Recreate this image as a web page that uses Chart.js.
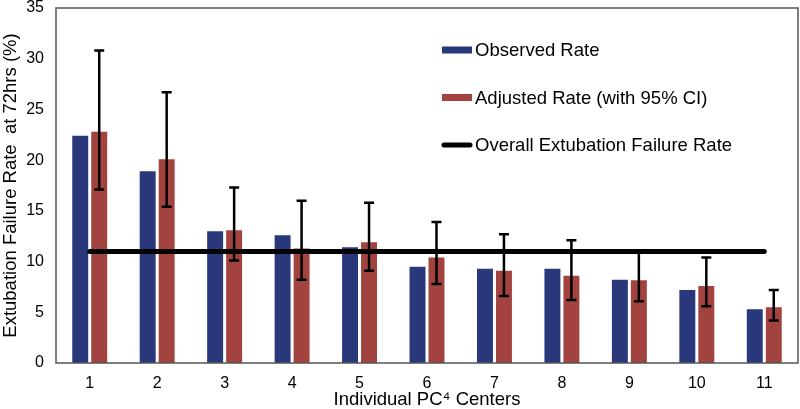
<!DOCTYPE html>
<html>
<head>
<meta charset="utf-8">
<script src="https://cdn.jsdelivr.net/npm/chart.js@4"></script>
<style>
  html, body { margin: 0; padding: 0; background: #fff; }
  #wrap { width: 800px; height: 409px; }
</style>
</head>
<body>
<div id="wrap"><canvas id="rateChart" width="800" height="409"></canvas></div>
<script>
const centers = ["1", "2", "3", "4", "5", "6", "7", "8", "9", "10", "11"];
const observedRate = [22.4, 18.9, 13.0, 12.6, 11.4, 9.5, 9.3, 9.3, 8.2, 7.2, 5.3];
const adjustedRate = [22.8, 20.1, 13.1, 11.3, 11.9, 10.4, 9.1, 8.6, 8.15, 7.6, 5.5];
const ciLow = [17.1, 15.4, 10.1, 8.2, 9.1, 7.8, 6.6, 6.2, 6.1, 5.6, 4.2];
const ciHigh = [30.8, 26.7, 17.3, 16.0, 15.8, 13.9, 12.7, 12.1, 11.0, 10.4, 7.2];
const overallRate = 11.0;

const blue = "#29387a";
const red = "#a2433f";
const font = "'Liberation Sans', Arial, sans-serif";

// whiskers on the adjusted bars
const errorBars = {
  id: "errorBars",
  afterDatasetDraw(chart, args) {
    if (args.index !== 1) return;
    const { ctx } = chart;
    const y = chart.scales.y;
    ctx.save();
    ctx.strokeStyle = "#000";
    ctx.lineWidth = 2.5;
    args.meta.data.forEach((bar, i) => {
      const top = y.getPixelForValue(ciHigh[i]);
      const bot = y.getPixelForValue(ciLow[i]);
      ctx.beginPath();
      ctx.moveTo(bar.x, top);
      ctx.lineTo(bar.x, bot);
      ctx.moveTo(bar.x - 5, top);
      ctx.lineTo(bar.x + 5, top);
      ctx.moveTo(bar.x - 5, bot);
      ctx.lineTo(bar.x + 5, bot);
      ctx.stroke();
    });
    ctx.restore();
  },
};

// box around plot + legend inside
const frameAndLegend = {
  id: "frameAndLegend",
  afterDraw(chart) {
    const { ctx, chartArea: a } = chart;
    ctx.save();
    ctx.strokeStyle = "#555";
    ctx.lineWidth = 1.5;
    ctx.strokeRect(a.left, a.top, a.right - a.left, a.bottom - a.top);

    const items = [
      { text: "Observed Rate", color: blue, line: false },
      { text: "Adjusted Rate (with 95% CI)", color: red, line: false },
      { text: "Overall Extubation Failure Rate", color: "#000", line: true },
    ];
    ctx.font = "18.5px " + font;
    ctx.textBaseline = "middle";
    ctx.fillStyle = "#000";
    items.forEach((it, i) => {
      const yy = 50 + i * 47.5;
      if (it.line) {
        ctx.strokeStyle = it.color;
        ctx.lineWidth = 5;
        ctx.lineCap = "round";
        ctx.beginPath();
        ctx.moveTo(444, yy);
        ctx.lineTo(470, yy);
        ctx.stroke();
      } else {
        ctx.fillStyle = it.color;
        ctx.fillRect(442, yy - 3.5, 30, 7);
      }
      ctx.fillStyle = "#000";
      ctx.fillText(it.text, 475, yy + 1);
    });
    ctx.restore();
  },
};

new Chart(document.getElementById("rateChart"), {
  data: {
    labels: centers,
    datasets: [
      {
        type: "bar",
        label: "Observed Rate",
        data: observedRate,
        backgroundColor: blue,
        barPercentage: 0.84,
        categoryPercentage: 0.563,
        order: 1,
      },
      {
        type: "bar",
        label: "Adjusted Rate (with 95% CI)",
        data: adjustedRate,
        backgroundColor: red,
        barPercentage: 0.84,
        categoryPercentage: 0.563,
        order: 1,
      },
      {
        type: "line",
        label: "Overall Extubation Failure Rate",
        data: centers.map(() => overallRate),
        borderColor: "#000",
        borderWidth: 5,
        borderCapStyle: "round",
        pointRadius: 0,
        order: 0,
      },
    ],
  },
  options: {
    responsive: false,
    animation: false,
    layout: { padding: { top: 8, right: 2, left: 0, bottom: 0 } },
    plugins: {
      legend: { display: false },
      tooltip: { enabled: false },
    },
    scales: {
      x: {
        grid: { display: false, drawTicks: false },
        border: { display: false },
        ticks: { color: "#000", font: { family: font, size: 16 }, padding: 11 },
        title: {
          display: true,
          text: "Individual PC⁴ Centers",
          color: "#000",
          font: { family: font, size: 18.5, lineHeight: 1 },
          padding: { top: 0, bottom: 0 },
        },
        afterFit(scale) {
          scale.height = 46;
          scale.paddingLeft = 0;
          scale.paddingRight = 0;
        },
      },
      y: {
        min: 0,
        max: 35,
        grid: { display: false, drawTicks: false },
        border: { display: false },
        ticks: { stepSize: 5, color: "#000", font: { family: font, size: 16 }, padding: 12 },
        title: {
          display: true,
          text: "Extubation Failure Rate  at 72hrs (%)",
          color: "#000",
          font: { family: font, size: 18.5 },
          padding: { top: 0, bottom: 0 },
        },
        afterFit(scale) {
          scale.width = 56;
          scale.paddingTop = 0;
          scale.paddingBottom = 0;
        },
      },
    },
  },
  plugins: [errorBars, frameAndLegend],
});
</script>
</body>
</html>
